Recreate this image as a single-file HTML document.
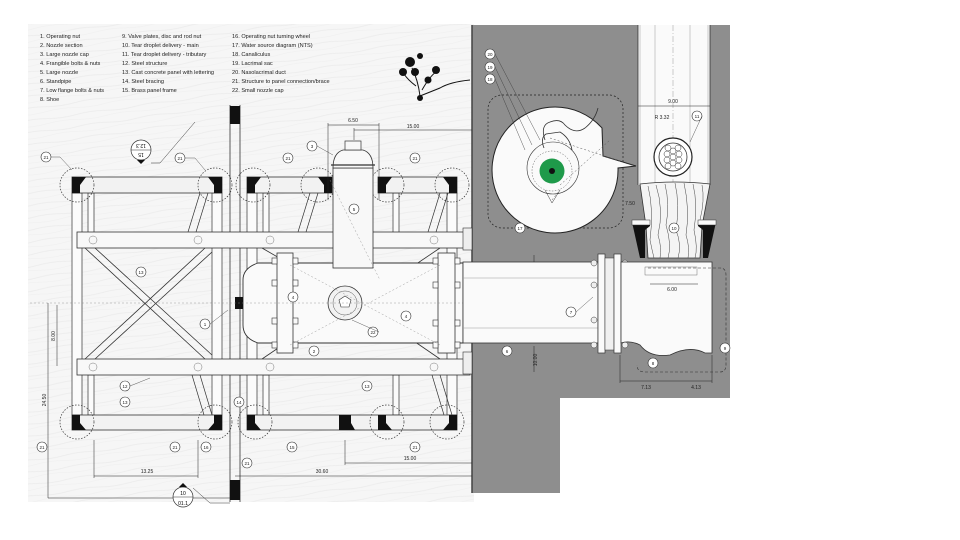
<!DOCTYPE html>
<html><head><meta charset="utf-8"><style>
html,body{margin:0;padding:0;background:#fff}
svg{display:block}
text{font-family:"Liberation Sans",sans-serif}
</style></head><body>
<svg width="960" height="540" viewBox="0 0 960 540" xmlns="http://www.w3.org/2000/svg">
<defs>
<pattern id="streak" width="60" height="12" patternUnits="userSpaceOnUse" patternTransform="rotate(-8)">
<rect width="60" height="12" fill="#f6f6f6"/>
<path d="M0 4 Q15 2 30 4 T60 4" stroke="#ebebeb" stroke-width="0.7" fill="none"/>
<path d="M0 9 Q15 11 30 9 T60 9" stroke="#efefef" stroke-width="0.5" fill="none"/>
</pattern>
<g id="lc"><circle r="5" fill="#fff" stroke="#333" stroke-width="0.6"/></g>
</defs>

<rect x="28" y="24" width="446" height="478" fill="url(#streak)"/>
<path d="M472 25 H730 V398 H560 V493 H472 Z" fill="#8e8e8e"/>
<line x1="472" y1="25" x2="472" y2="493" stroke="#444" stroke-width="1.5"/>

<g font-size="5.6" fill="#222">
<text x="40" y="38">1. Operating nut</text>
<text x="40" y="47">2. Nozzle section</text>
<text x="40" y="56">3. Large nozzle cap</text>
<text x="40" y="65">4. Frangible bolts &amp; nuts</text>
<text x="40" y="74">5. Large nozzle</text>
<text x="40" y="83">6. Standpipe</text>
<text x="40" y="92">7. Low flange bolts &amp; nuts</text>
<text x="40" y="101">8. Shoe</text>
<text x="122" y="38">9. Valve plates, disc and rod nut</text>
<text x="122" y="47">10. Tear droplet delivery - main</text>
<text x="122" y="56">11. Tear droplet delivery - tributary</text>
<text x="122" y="65">12. Steel structure</text>
<text x="122" y="74">13. Cast concrete panel with lettering</text>
<text x="122" y="83">14. Steel bracing</text>
<text x="122" y="92">15. Brass panel frame</text>
<text x="232" y="38">16. Operating nut turning wheel</text>
<text x="232" y="47">17. Water source diagram (NTS)</text>
<text x="232" y="56">18. Canaliculus</text>
<text x="232" y="65">19. Lacrimal sac</text>
<text x="232" y="74">20. Nasolacrimal duct</text>
<text x="232" y="83">21. Structure to panel connection/brace</text>
<text x="232" y="92">22. Small nozzle cap</text>
</g>

<g fill="#111">
<path d="M470 80 Q450 82 440 88 Q430 92 420 96" stroke="#111" stroke-width="1" fill="none"/>
<path d="M420 96 Q418 80 412 68 M416 86 Q408 80 404 74 M422 90 Q430 76 436 72" stroke="#111" stroke-width="1" fill="none"/>
<circle cx="410" cy="62" r="5"/><circle cx="403" cy="72" r="4"/><circle cx="415" cy="72" r="4"/>
<circle cx="436" cy="70" r="4"/><circle cx="428" cy="80" r="3.5"/><circle cx="420" cy="56" r="3"/>
<circle cx="420" cy="98" r="3"/>
</g>

<g stroke="#333" stroke-width="0.8">
<line x1="230" y1="105" x2="230" y2="502"/><line x1="240" y1="105" x2="240" y2="502"/>
</g>
<rect x="230" y="106" width="10" height="18" fill="#111"/>
<rect x="230" y="480" width="10" height="20" fill="#111"/>

<g fill="#fbfbfb" stroke="#333" stroke-width="0.7">
<rect x="72" y="193" width="10" height="222"/>
<rect x="212" y="193" width="10" height="222"/>
<rect x="247" y="193" width="10" height="222"/>
<rect x="447" y="193" width="10" height="222"/>
<rect x="88" y="193" width="6" height="40"/><rect x="88" y="375" width="6" height="40"/>
<rect x="263" y="193" width="6" height="40"/><rect x="263" y="375" width="6" height="40"/>
<rect x="393" y="193" width="6" height="40"/><rect x="393" y="375" width="6" height="40"/>
</g>
<g stroke="#333" stroke-width="0.7" fill="none">
<path d="M200 193 L188 232 M208 193 L196 232"/>
<path d="M310 193 L298 232 M318 193 L306 232"/>
<path d="M440 193 L428 232 M448 193 L436 232"/>
<path d="M192 375 L204 415 M200 375 L212 415"/>
<path d="M432 375 L444 415 M440 375 L452 415"/>
</g>
<g stroke="#333" stroke-width="0.8" fill="none">
<path d="M85 248 L205 359 M95 248 L212 355"/>
<path d="M205 248 L85 359 M212 252 L95 359"/>
<path d="M262 248 L300 270 M440 248 L400 275 M262 359 L290 340 M440 359 L405 335"/>
</g>

<g fill="#f8f8f8" stroke="#333" stroke-width="0.8">
<rect x="77" y="232" width="393" height="16"/>
<rect x="77" y="359" width="393" height="16"/>
</g>
<g stroke="#777" stroke-width="0.5" fill="none">
<circle cx="93" cy="240" r="4"/><circle cx="198" cy="240" r="4"/><circle cx="270" cy="240" r="4"/><circle cx="434" cy="240" r="4"/>
<circle cx="93" cy="367" r="4"/><circle cx="198" cy="367" r="4"/><circle cx="270" cy="367" r="4"/><circle cx="434" cy="367" r="4"/>
</g>

<g fill="#f2f2f2" stroke="#333" stroke-width="0.8">
<rect x="72" y="177" width="150" height="16"/>
<rect x="247" y="177" width="85" height="16"/>
<rect x="378" y="177" width="79" height="16"/>
<rect x="72" y="415" width="150" height="15"/>
<rect x="247" y="415" width="210" height="15"/>
</g>
<g fill="#111">
<path d="M72 177 h14 l-6 8 v8 h-8z"/><path d="M222 177 h-14 l6 8 v8 h8z"/>
<path d="M247 177 h14 l-6 8 v8 h-8z"/><path d="M332 177 h-14 l6 8 v8 h8z"/>
<path d="M378 177 h14 l-6 8 v8 h-8z"/><path d="M457 177 h-14 l6 8 v8 h8z"/>
<path d="M72 415 h8 v8 l6 7 h-14z"/><path d="M222 415 h-8 v8 l-6 7 h14z"/>
<path d="M247 415 h8 v8 l6 7 h-14z"/><path d="M339 415 h12 v8 l4 7 h-16z"/>
<path d="M378 415 h8 v8 l6 7 h-14z"/><path d="M457 415 h-8 v8 l-6 7 h14z"/>
</g>
<g fill="none" stroke="#333" stroke-width="0.7" stroke-dasharray="1.5 1.5">
<circle cx="77" cy="185" r="17"/><circle cx="215" cy="185" r="17"/>
<circle cx="253" cy="185" r="17"/><circle cx="318" cy="185" r="17"/>
<circle cx="387" cy="185" r="17"/><circle cx="452" cy="185" r="17"/>
<circle cx="77" cy="422" r="17"/><circle cx="215" cy="422" r="17"/>
<circle cx="255" cy="422" r="17"/><circle cx="387" cy="422" r="17"/><circle cx="447" cy="422" r="17"/>
</g>

<path d="M258 263 H463 V343 H258 Q243 338 243 325 V280 Q243 268 258 263 Z" fill="#fafafa" stroke="#333" stroke-width="0.9"/>
<rect x="235" y="297" width="8" height="12" fill="#111"/>
<rect x="277" y="253" width="16" height="100" fill="#fafafa" stroke="#333" stroke-width="0.8"/>
<rect x="438" y="253" width="17" height="100" fill="#fafafa" stroke="#333" stroke-width="0.8"/>
<g fill="#fafafa" stroke="#333" stroke-width="0.6">
<rect x="272" y="258" width="5" height="6"/><rect x="272" y="280" width="5" height="6"/><rect x="272" y="318" width="5" height="6"/><rect x="272" y="342" width="5" height="6"/>
<rect x="293" y="258" width="5" height="6"/><rect x="293" y="280" width="5" height="6"/><rect x="293" y="318" width="5" height="6"/><rect x="293" y="342" width="5" height="6"/>
<rect x="433" y="258" width="5" height="6"/><rect x="433" y="282" width="5" height="6"/><rect x="433" y="320" width="5" height="6"/><rect x="433" y="342" width="5" height="6"/>
<rect x="455" y="258" width="5" height="6"/><rect x="455" y="282" width="5" height="6"/><rect x="455" y="320" width="5" height="6"/><rect x="455" y="342" width="5" height="6"/>
</g>
<rect x="463" y="228" width="9" height="22" fill="#eee" stroke="#333" stroke-width="0.6"/>
<rect x="463" y="352" width="9" height="22" fill="#eee" stroke="#333" stroke-width="0.6"/>
<rect x="333" y="168" width="40" height="100" fill="#f8f8f8" stroke="#333" stroke-width="0.8"/>
<path d="M333 168 Q333 153 343 150 H363 Q373 153 373 168 Z" fill="#f8f8f8" stroke="#333" stroke-width="0.8"/>
<rect x="345" y="141" width="16" height="9" fill="#f8f8f8" stroke="#333" stroke-width="0.7"/>
<line x1="331" y1="165" x2="375" y2="165" stroke="#333" stroke-width="1.2"/>
<circle cx="345" cy="303" r="17" fill="#f2f2f2" stroke="#333" stroke-width="0.8"/>
<circle cx="345" cy="303" r="12" fill="none" stroke="#555" stroke-width="0.5"/>
<path d="M345 296 l6 4 -2 7 h-8 l-2 -7z" fill="#fff" stroke="#333" stroke-width="0.6"/>
<g stroke="#888" stroke-width="0.4" stroke-dasharray="2 2" fill="none">
<path d="M290 265 L440 345 M290 345 L440 265 M330 180 L380 280"/>
<line x1="30" y1="303" x2="640" y2="303"/>
</g>

<rect x="463" y="262" width="135" height="81" fill="#fafafa" stroke="#333" stroke-width="0.8"/>
<line x1="463" y1="278" x2="598" y2="278" stroke="#999" stroke-width="0.5"/>
<line x1="463" y1="328" x2="598" y2="328" stroke="#999" stroke-width="0.5"/>
<rect x="598" y="254" width="7" height="99" fill="#fafafa" stroke="#333" stroke-width="0.7"/>
<rect x="605" y="258" width="9" height="92" fill="#f0f0f0" stroke="#333" stroke-width="0.5"/>
<rect x="614" y="254" width="7" height="99" fill="#fafafa" stroke="#333" stroke-width="0.7"/>
<g fill="#eee" stroke="#333" stroke-width="0.5">
<circle cx="594" cy="263" r="3"/><circle cx="594" cy="285" r="3"/><circle cx="594" cy="320" r="3"/><circle cx="594" cy="345" r="3"/>
<circle cx="625" cy="263" r="3"/><circle cx="625" cy="285" r="3"/><circle cx="625" cy="320" r="3"/><circle cx="625" cy="345" r="3"/>
</g>
<path d="M621 262 H712 V353 H705 Q690 345 670 355 Q650 358 640 345 Q630 340 621 343 Z" fill="#fafafa" stroke="#333" stroke-width="0.8"/>
<rect x="645" y="267" width="52" height="8" fill="none" stroke="#555" stroke-width="0.4"/>
<path d="M648 268 H720 Q726 268 726 275 V365 Q726 372 720 372 H645 Q637 372 637 365" fill="none" stroke="#333" stroke-width="0.6" stroke-dasharray="3 2"/>
<rect x="638" y="25" width="72" height="160" fill="#fafafa"/>
<g stroke="#999" stroke-width="0.5"><line x1="640" y1="25" x2="640" y2="185"/><line x1="655" y1="25" x2="655" y2="185"/><line x1="673" y1="25" x2="673" y2="185" stroke-dasharray="6 2 1 2"/><line x1="690" y1="25" x2="690" y2="185"/><line x1="708" y1="25" x2="708" y2="185"/></g>
<line x1="638" y1="25" x2="638" y2="185" stroke="#333" stroke-width="0.8"/>
<line x1="710" y1="25" x2="710" y2="185" stroke="#333" stroke-width="0.8"/>
<circle cx="673" cy="157" r="19" fill="#fff" stroke="#222" stroke-width="1.2"/>
<circle cx="673" cy="157" r="14" fill="#fff" stroke="#333" stroke-width="0.8"/>
<g fill="none" stroke="#333" stroke-width="0.5">
<circle cx="673" cy="157" r="3"/><circle cx="667" cy="154" r="3"/><circle cx="679" cy="154" r="3"/><circle cx="667" cy="160" r="3"/><circle cx="679" cy="160" r="3"/><circle cx="673" cy="151" r="3"/><circle cx="673" cy="163" r="3"/><circle cx="668" cy="148" r="3"/><circle cx="678" cy="148" r="3"/><circle cx="668" cy="166" r="3"/><circle cx="678" cy="166" r="3"/>
</g>
<path d="M640 184 Q675 180 710 184 L702 226 L700 258 H648 L646 226 Z" fill="#f4f4f4" stroke="#333" stroke-width="0.8"/>
<g stroke="#444" stroke-width="0.5" fill="none">
<path d="M648 186 Q654 210 650 240 Q652 250 654 258"/><path d="M656 185 Q664 210 658 235 Q662 248 660 258"/>
<path d="M665 184 Q670 205 666 225 Q672 245 668 258"/><path d="M675 183 Q680 205 676 230 Q682 245 678 258"/>
<path d="M684 183 Q690 210 686 235 Q690 248 688 258"/><path d="M693 184 Q698 205 694 230 Q698 248 695 258"/>
<path d="M702 185 Q705 200 700 220"/>
</g>
<path d="M632 222 H650 V226 L645 230 V258 H640 Z" fill="#111"/>
<path d="M716 222 H698 V226 L703 230 V258 H708 Z" fill="#111"/>
<rect x="632" y="220" width="18" height="5" fill="#fafafa" stroke="#333" stroke-width="0.5"/>
<rect x="698" y="220" width="18" height="5" fill="#fafafa" stroke="#333" stroke-width="0.5"/>

<rect x="488" y="95" width="135" height="133" rx="14" fill="none" stroke="#222" stroke-width="0.7" stroke-dasharray="2 2"/>
<path d="M602 128 A63 63 0 1 0 618 168 L636 166 L603 156 Z" fill="#fafafa" stroke="#222" stroke-width="1"/>
<circle cx="553" cy="168" r="26" fill="none" stroke="#333" stroke-width="0.6"/>
<circle cx="552" cy="171" r="20" fill="none" stroke="#555" stroke-width="0.5" stroke-dasharray="1.5 1.5"/>
<circle cx="552" cy="171" r="12.5" fill="#1f9a4a"/>
<circle cx="552" cy="171" r="3" fill="#111"/>
<path d="M545 140 Q540 125 550 122 Q560 118 565 125 Q575 135 585 128 Q595 120 598 108" fill="none" stroke="#333" stroke-width="0.8"/>
<path d="M544 148 Q540 138 546 134 L560 132 Q570 138 572 150" fill="none" stroke="#333" stroke-width="0.8"/>
<g stroke="#555" stroke-width="0.5" fill="none" stroke-dasharray="2 2"><path d="M550 138 L634 166 M560 185 L610 140 M552 200 L560 190"/></g>
<path d="M545 190 L552 203 L560 190" fill="none" stroke="#333" stroke-width="0.5"/>

<g stroke="#222" stroke-width="0.5" fill="none">
<line x1="94" y1="476" x2="198" y2="476"/><line x1="94" y1="440" x2="94" y2="478"/><line x1="198" y1="440" x2="198" y2="478"/>
<line x1="235" y1="476" x2="472" y2="476"/>
<line x1="345" y1="463" x2="472" y2="463"/><line x1="345" y1="440" x2="345" y2="465"/>
<line x1="48" y1="303" x2="48" y2="498"/><line x1="48" y1="498" x2="230" y2="498"/>
<line x1="57" y1="305" x2="57" y2="366"/>
<line x1="328" y1="125" x2="379" y2="125"/><line x1="328" y1="123" x2="328" y2="200"/><line x1="379" y1="123" x2="379" y2="200"/>
<line x1="354" y1="130" x2="472" y2="130"/><line x1="354" y1="128" x2="354" y2="140"/>
<line x1="638" y1="106" x2="710" y2="106"/>
<line x1="620" y1="381" x2="682" y2="381"/><line x1="682" y1="381" x2="712" y2="381"/><line x1="620" y1="355" x2="620" y2="383"/><line x1="712" y1="355" x2="712" y2="383"/>
<line x1="650" y1="284" x2="698" y2="284"/>
<line x1="534" y1="346" x2="534" y2="372"/>
<line x1="534" y1="255" x2="534" y2="262"/>
</g>
<g font-size="5" fill="#222" text-anchor="middle">
<text x="147" y="473">13.25</text><text x="322" y="473">30.60</text><text x="410" y="460">15.00</text>
<text x="353" y="122">6.50</text><text x="413" y="128">15.00</text>
<text x="46" y="400" transform="rotate(-90 46 400)">24.50</text>
<text x="55" y="336" transform="rotate(-90 55 336)">8.00</text>
<text x="673" y="103">9.00</text><text x="662" y="119">R 3.32</text>
<text x="630" y="205">7.50</text><text x="672" y="291">6.00</text>
<text x="646" y="389">7.13</text><text x="696" y="389">4.13</text>
<text x="537" y="360" transform="rotate(-90 537 360)">10.00</text>
</g>

<circle cx="141" cy="150" r="10" fill="#fff" stroke="#333" stroke-width="0.7"/>
<line x1="131" y1="150" x2="151" y2="150" stroke="#333" stroke-width="0.5"/>
<text x="141" y="147" font-size="5" text-anchor="middle" transform="rotate(180 141 145.5)">12.3</text>
<text x="141" y="157" font-size="5" text-anchor="middle" transform="rotate(180 141 155)">15</text>
<path d="M137 160 h8 l-4 4z" fill="#111"/>
<circle cx="183" cy="497" r="10" fill="#fff" stroke="#333" stroke-width="0.7"/>
<line x1="173" y1="497" x2="193" y2="497" stroke="#333" stroke-width="0.5"/>
<text x="183" y="495" font-size="5" text-anchor="middle">10</text>
<text x="183" y="505" font-size="5" text-anchor="middle">01.1</text>
<path d="M179 487 h8 l-4 -4z" fill="#111"/>
<path d="M193 488 L210 503 H230" fill="none" stroke="#333" stroke-width="0.5"/>
<path d="M151 163 L160 163 L195 122" fill="none" stroke="#333" stroke-width="0.5"/>

<g font-size="4.5" fill="#222" text-anchor="middle">
<use href="#lc" x="46" y="157"/><text x="46" y="159">21</text>
<use href="#lc" x="180" y="158"/><text x="180" y="160">21</text>
<use href="#lc" x="288" y="158"/><text x="288" y="160">21</text>
<use href="#lc" x="415" y="158"/><text x="415" y="160">21</text>
<use href="#lc" x="312" y="146"/><text x="312" y="148">3</text>
<use href="#lc" x="354" y="209"/><text x="354" y="211">5</text>
<use href="#lc" x="141" y="272"/><text x="141" y="274">13</text>
<use href="#lc" x="205" y="324"/><text x="205" y="326">1</text>
<use href="#lc" x="293" y="297"/><text x="293" y="299">4</text>
<use href="#lc" x="406" y="316"/><text x="406" y="318">4</text>
<use href="#lc" x="373" y="332"/><text x="373" y="334">22</text>
<use href="#lc" x="314" y="351"/><text x="314" y="353">2</text>
<use href="#lc" x="125" y="386"/><text x="125" y="388">12</text>
<use href="#lc" x="125" y="402"/><text x="125" y="404">13</text>
<use href="#lc" x="367" y="386"/><text x="367" y="388">13</text>
<use href="#lc" x="239" y="402"/><text x="239" y="404">14</text>
<use href="#lc" x="42" y="447"/><text x="42" y="449">21</text>
<use href="#lc" x="175" y="447"/><text x="175" y="449">21</text>
<use href="#lc" x="206" y="447"/><text x="206" y="449">16</text>
<use href="#lc" x="292" y="447"/><text x="292" y="449">15</text>
<use href="#lc" x="247" y="463"/><text x="247" y="465">21</text>
<use href="#lc" x="415" y="447"/><text x="415" y="449">21</text>
<use href="#lc" x="490" y="54"/><text x="490" y="56">20</text>
<use href="#lc" x="490" y="67"/><text x="490" y="69">19</text>
<use href="#lc" x="490" y="79"/><text x="490" y="81">18</text>
<use href="#lc" x="520" y="228"/><text x="520" y="230">17</text>
<use href="#lc" x="697" y="116"/><text x="697" y="118">11</text>
<use href="#lc" x="674" y="228"/><text x="674" y="230">10</text>
<use href="#lc" x="571" y="312"/><text x="571" y="314">7</text>
<use href="#lc" x="507" y="351"/><text x="507" y="353">6</text>
<use href="#lc" x="653" y="363"/><text x="653" y="365">8</text>
<use href="#lc" x="725" y="348"/><text x="725" y="350">9</text>
</g>
<g stroke="#333" stroke-width="0.4" fill="none">
<path d="M51 157 H60 L72 170"/><path d="M185 158 H195 L205 170"/><path d="M317 146 L333 155"/>
<path d="M210 324 L228 310"/><path d="M130 386 L150 378"/><path d="M379 332 L352 320"/>
<path d="M495 54 L540 140"/><path d="M495 67 L532 145"/><path d="M495 79 L525 150"/>
<path d="M702 116 L690 142"/><path d="M576 312 L593 297"/>
</g>
</svg>
</body></html>
